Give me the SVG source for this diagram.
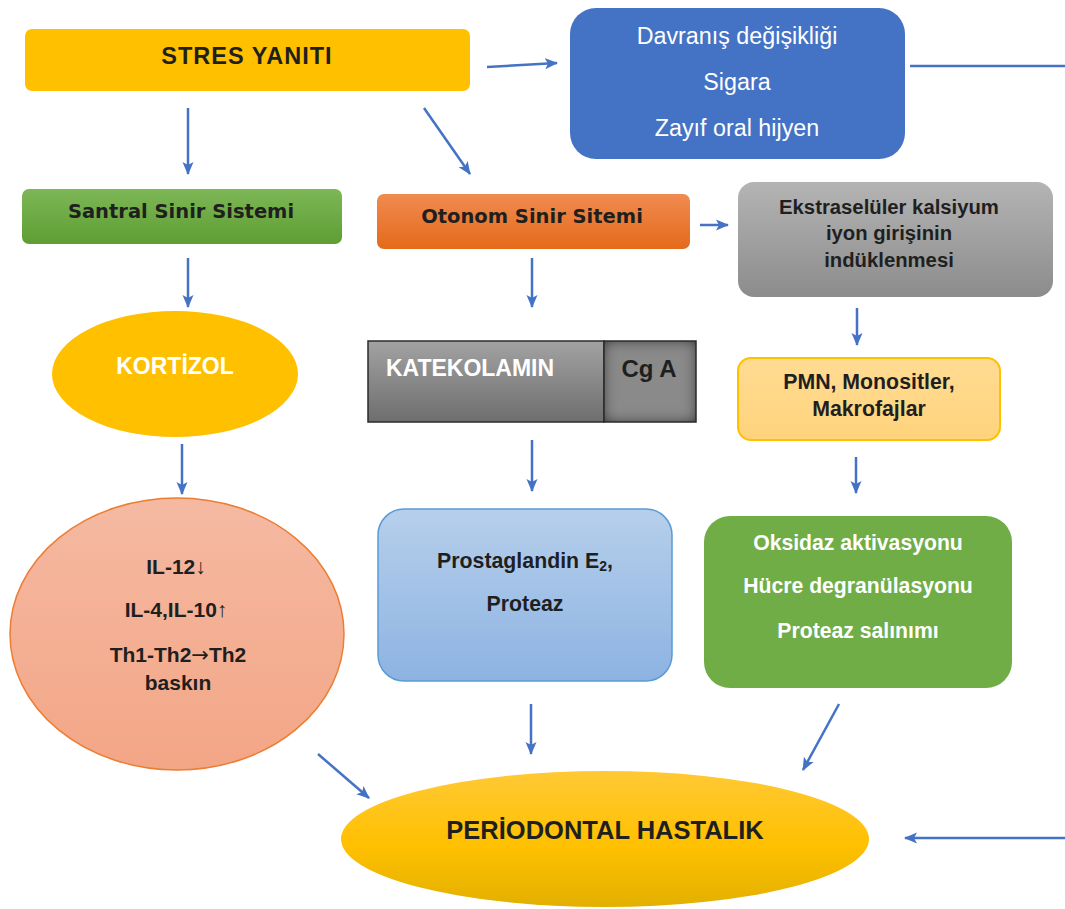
<svg xmlns="http://www.w3.org/2000/svg" width="1065" height="909" viewBox="0 0 1065 909">
<style>
.t{font-family:"Liberation Sans",Arial,sans-serif;font-weight:bold;text-anchor:middle;fill:#1f1f1f}
.d{font-family:"DejaVu Sans","Liberation Sans",sans-serif}
.w{fill:#ffffff}
.r{font-weight:normal}
.c{fill:none;stroke:#4472C4;stroke-width:2.5}
</style>
<defs>
<marker id="ah" markerUnits="userSpaceOnUse" markerWidth="14" markerHeight="14" viewBox="0 0 14 14" refX="12" refY="7" orient="auto">
<path d="M0,1.5 L13,7 L0,12.5 L3,7 Z" fill="#4472C4"/>
</marker>
<linearGradient id="gGreen" x1="0" y1="0" x2="0" y2="1"><stop offset="0" stop-color="#7DB756"/><stop offset="1" stop-color="#5E9E33"/></linearGradient>
<linearGradient id="gOrange" x1="0" y1="0" x2="0" y2="1"><stop offset="0" stop-color="#F08B50"/><stop offset="1" stop-color="#E46A1A"/></linearGradient>
<linearGradient id="gGray" x1="0" y1="0" x2="0" y2="1"><stop offset="0" stop-color="#B4B4B4"/><stop offset="1" stop-color="#8C8C8C"/></linearGradient>
<linearGradient id="gKat" x1="0" y1="0" x2="0" y2="1"><stop offset="0" stop-color="#A2A2A2"/><stop offset="1" stop-color="#6E6E6E"/></linearGradient>
<linearGradient id="gPmn" x1="0" y1="0" x2="0" y2="1"><stop offset="0" stop-color="#FFDC93"/><stop offset="1" stop-color="#FFD37C"/></linearGradient>
<linearGradient id="gIl" x1="0" y1="0" x2="0" y2="1"><stop offset="0" stop-color="#F5B9A2"/><stop offset="1" stop-color="#F3A686"/></linearGradient>
<linearGradient id="gPro" x1="0" y1="0" x2="0" y2="1"><stop offset="0" stop-color="#B6CFEB"/><stop offset="1" stop-color="#8DB3E2"/></linearGradient>
<linearGradient id="gPer" x1="0" y1="0" x2="0" y2="1"><stop offset="0" stop-color="#FFC935"/><stop offset="0.55" stop-color="#FFC000"/><stop offset="1" stop-color="#E2B000"/></linearGradient>
<filter id="inset" x="-30%" y="-30%" width="160%" height="160%">
<feFlood flood-color="#000" flood-opacity="1"/>
<feComposite in2="SourceAlpha" operator="out"/>
<feGaussianBlur stdDeviation="7"/>
<feComposite in2="SourceAlpha" operator="in" result="sh"/>
<feMerge><feMergeNode in="SourceGraphic"/><feMergeNode in="sh"/></feMerge>
</filter>
</defs>

<g id="connectors">
<line class="c" x1="487" y1="67" x2="557" y2="63" marker-end="url(#ah)"/>
<path class="c" d="M910,66 H1072 V838 H905" marker-end="url(#ah)"/>
<line class="c" x1="188" y1="108" x2="188" y2="174" marker-end="url(#ah)"/>
<line class="c" x1="424" y1="108" x2="470" y2="174" marker-end="url(#ah)"/>
<line class="c" x1="700" y1="225" x2="728" y2="225" marker-end="url(#ah)"/>
<line class="c" x1="188" y1="258" x2="188" y2="307" marker-end="url(#ah)"/>
<line class="c" x1="532" y1="258" x2="532" y2="307" marker-end="url(#ah)"/>
<line class="c" x1="857" y1="308" x2="857" y2="345" marker-end="url(#ah)"/>
<line class="c" x1="182" y1="444" x2="182" y2="494" marker-end="url(#ah)"/>
<line class="c" x1="532" y1="440" x2="532" y2="491" marker-end="url(#ah)"/>
<line class="c" x1="856" y1="457" x2="856" y2="493" marker-end="url(#ah)"/>
<line class="c" x1="318" y1="754" x2="369" y2="798" marker-end="url(#ah)"/>
<line class="c" x1="531" y1="704" x2="531" y2="754" marker-end="url(#ah)"/>
<line class="c" x1="839" y1="704" x2="803" y2="770" marker-end="url(#ah)"/>
</g>

<g id="stres">
<rect x="25" y="29" width="445" height="62" rx="7" fill="#FFC000"/>
<text class="t" x="247" y="64" font-size="23.5" letter-spacing="1" fill="#262626">STRES YANITI</text>
</g>

<g id="davranis">
<rect x="570" y="8" width="335" height="151" rx="26" fill="#4472C4"/>
<text class="t w r" x="737" y="44" font-size="23.3">Davranış değişikliği</text>
<text class="t w r" x="737" y="90" font-size="23.3">Sigara</text>
<text class="t w r" x="737" y="136" font-size="23.3">Zayıf oral hijyen</text>
</g>

<g id="santral">
<rect x="22" y="189" width="320" height="55" rx="7" fill="url(#gGreen)"/>
<text class="t d" x="181" y="218" font-size="19.5">Santral Sinir Sistemi</text>
</g>

<g id="otonom">
<rect x="377" y="194" width="313" height="55" rx="7" fill="url(#gOrange)"/>
<text class="t d" x="532" y="223" font-size="19.5">Otonom Sinir Sitemi</text>
</g>

<g id="ekstra">
<rect x="738" y="182" width="315" height="115" rx="16" fill="url(#gGray)"/>
<text class="t" x="889" y="214" font-size="20.3">Ekstraselüler kalsiyum</text>
<text class="t" x="889" y="240" font-size="20.3">iyon girişinin</text>
<text class="t" x="889" y="267" font-size="20.3">indüklenmesi</text>
</g>

<g id="kortizol">
<ellipse cx="175" cy="374" rx="123" ry="63" fill="#FFC000"/>
<text class="t w" x="175" y="374" font-size="23">KORTİZOL</text>
</g>

<g id="katekolamin">
<rect x="368" y="341" width="236" height="81" fill="url(#gKat)" stroke="#2b2b2b" stroke-width="1.5"/>
<rect x="604" y="341" width="92" height="81" fill="#8A8A8A" filter="url(#inset)"/>
<rect x="604" y="341" width="92" height="81" fill="none" stroke="#2b2b2b" stroke-width="1.5"/>
<text class="t w" x="470" y="376" font-size="23">KATEKOLAMIN</text>
<text class="t" x="649" y="377" font-size="24">Cg A</text>
</g>

<g id="pmn">
<rect x="738" y="358" width="262" height="82" rx="13" fill="url(#gPmn)" stroke="#FFC000" stroke-width="2"/>
<text class="t" x="869" y="389" font-size="21.3">PMN, Monositler,</text>
<text class="t" x="869" y="416" font-size="21.3">Makrofajlar</text>
</g>

<g id="il">
<ellipse cx="177" cy="634" rx="167" ry="136" fill="url(#gIl)" stroke="#ED7D31" stroke-width="1.5"/>
<text class="t" x="176" y="574" font-size="21">IL-12↓</text>
<text class="t" x="176" y="617" font-size="21">IL-4,IL-10↑</text>
<text class="t" x="178" y="662" font-size="21">Th1-Th2<tspan font-family="DejaVu Sans, sans-serif" font-weight="normal">→</tspan>Th2</text>
<text class="t" x="178" y="690" font-size="21">baskın</text>
</g>

<g id="prostaglandin">
<rect x="378" y="509" width="294" height="172" rx="26" fill="url(#gPro)" stroke="#5B9BD5" stroke-width="1.5"/>
<text class="t" x="525" y="568" font-size="21.3">Prostaglandin E<tspan font-size="14" dy="3">2</tspan><tspan dy="-3">,</tspan></text>
<text class="t" x="525" y="611" font-size="21.3">Proteaz</text>
</g>

<g id="oksidaz">
<rect x="704" y="516" width="308" height="172" rx="26" fill="#70AD47"/>
<text class="t w" x="858" y="550" font-size="21.2">Oksidaz aktivasyonu</text>
<text class="t w" x="858" y="593" font-size="21.2">Hücre degranülasyonu</text>
<text class="t w" x="858" y="638" font-size="21.2">Proteaz salınımı</text>
</g>

<g id="periodontal">
<ellipse cx="605" cy="839" rx="264" ry="68" fill="url(#gPer)"/>
<text class="t" x="605" y="839" font-size="25.5" fill="#111">PERİODONTAL HASTALIK</text>
</g>
</svg>
